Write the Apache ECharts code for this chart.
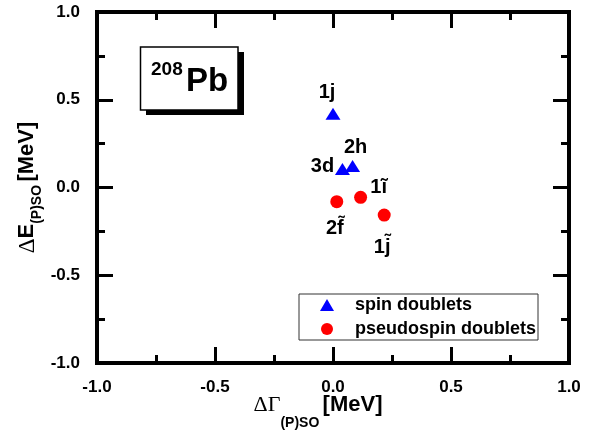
<!DOCTYPE html>
<html>
<head>
<meta charset="utf-8">
<script src="https://cdn.jsdelivr.net/npm/echarts@6/dist/echarts.min.js"></script>
<style>
html,body{margin:0;padding:0;background:#fff;}
#chart{width:613px;height:437px;}
</style>
</head>
<body>
<div id="chart"></div>
<script>
// ---- data ----
const spinNames = ['1j', '3d', '2h'];
const spinX = [0.000, 0.040, 0.083];
const spinY = [0.420, 0.105, 0.123];

const pseudoNames = ['2f\u0303', '1\u0129', '1j\u0303'];
const pseudoX = [0.016, 0.117, 0.217];
const pseudoY = [-0.081, -0.056, -0.157];

const seriesNames = ['spin doublets', 'pseudospin doublets'];
const axisMin = -1.0;
const axisMax = 1.0;
const axisStep = 0.5;

// ---- label placement (styling, not data) ----
const labelOffsets = {
  '1j': [-6, -21],
  '3d': [-20, -3],
  '2h': [3, -18],
  '2f\u0303': [-2, 27],
  '1\u0129': [18, -10],
  '1j\u0303': [-2, 32]
};

const FONT = '"Liberation Sans", Arial, sans-serif';

function buildData(xs, ys, names) {
  return xs.map((x, i) => ({
    value: [x, ys[i]],
    name: names[i],
    label: {
      show: true,
      formatter: names[i],
      position: 'inside',
      offset: labelOffsets[names[i]],
      fontSize: 20,
      fontWeight: 'bold',
      fontFamily: FONT,
      color: '#000'
    }
  }));
}

const chart = echarts.init(document.getElementById('chart'), null, {renderer: 'canvas'});

const tickLabelFmt = v => v.toFixed(1);

function axisCommon(showLabel) {
  return {
    min: axisMin,
    max: axisMax,
    interval: axisStep,
    axisLine: {show: true, onZero: false, lineStyle: {color: '#000', width: 4, cap: 'square'}},
    axisTick: {show: true, inside: true, length: 16, lineStyle: {color: '#000', width: 3}},
    minorTick: {show: true, splitNumber: 2, length: 8, lineStyle: {color: '#000', width: 3}},
    splitLine: {show: false},
    minorSplitLine: {show: false},
    axisLabel: {
      show: showLabel,
      formatter: tickLabelFmt,
      fontSize: 17,
      fontWeight: 'bold',
      fontFamily: FONT,
      color: '#000'
    }
  };
}

const option = {
  animation: false,
  backgroundColor: '#fff',
  grid: {left: 97, right: 44, top: 12, bottom: 74, containLabel: false, outerBoundsMode: 'none'},
  legend: {
    orient: 'vertical',
    left: 299,
    top: 294,
    data: seriesNames,
    itemWidth: 14,
    itemHeight: 12,
    itemGap: 6,
    padding: [2, 2, 2, 21],
    borderColor: '#333',
    borderWidth: 1,
    textStyle: {fontSize: 18, fontWeight: 'bold', fontFamily: FONT, color: '#000', lineHeight: 18, padding: [0, 0, 0, 16]}
  },
  xAxis: [
    Object.assign(axisCommon(true), {
      type: 'value',
      position: 'bottom',
      axisLabel: Object.assign(axisCommon(true).axisLabel, {margin: 16}),
      name: '{d|\u0394\u0393}{s|(P)SO} {m|[MeV]}',
      nameLocation: 'middle',
      nameGap: 31,
      nameMoveOverlap: false,
      nameTextStyle: {
        padding: [0, 30, 0, 0],
        rich: {
          d: {fontFamily: '"Liberation Serif", serif', fontSize: 22, fontWeight: 'normal', color: '#000', verticalAlign: 'top', lineHeight: 24},
          s: {fontFamily: FONT, fontSize: 14, fontWeight: 'bold', color: '#000', verticalAlign: 'top', lineHeight: 14, padding: [22, 0, 0, 0]},
          m: {fontFamily: FONT, fontSize: 22, fontWeight: 'bold', color: '#000', verticalAlign: 'top', lineHeight: 24}
        }
      }
    }),
    Object.assign(axisCommon(false), {type: 'value', position: 'top'})
  ],
  yAxis: [
    Object.assign(axisCommon(true), {
      type: 'value',
      position: 'left',
      axisLabel: Object.assign(axisCommon(true).axisLabel, {margin: 17}),
      name: '{d|\u0394}{e|E}{s|(P)SO} {m|[MeV]}',
      nameLocation: 'middle',
      nameGap: 57,
      nameMoveOverlap: false,
      nameTextStyle: {
        rich: {
          d: {fontFamily: '"Liberation Serif", serif', fontSize: 23, fontWeight: 'normal', color: '#000', verticalAlign: 'top', lineHeight: 24},
          e: {fontFamily: FONT, fontSize: 22, fontWeight: 'bold', color: '#000', verticalAlign: 'top', lineHeight: 24},
          s: {fontFamily: FONT, fontSize: 14, fontWeight: 'bold', color: '#000', verticalAlign: 'top', lineHeight: 14, padding: [14, 0, 0, 0]},
          m: {fontFamily: FONT, fontSize: 22, fontWeight: 'bold', color: '#000', verticalAlign: 'top', lineHeight: 24}
        }
      }
    }),
    Object.assign(axisCommon(false), {type: 'value', position: 'right'})
  ],
  series: [
    {
      name: seriesNames[0],
      type: 'scatter',
      symbol: 'triangle',
      symbolSize: [15, 12],
      itemStyle: {color: '#0000ff', opacity: 1},
      data: buildData(spinX, spinY, spinNames),
      z: 3
    },
    {
      name: seriesNames[1],
      type: 'scatter',
      symbol: 'circle',
      symbolSize: 13,
      itemStyle: {color: '#ff0000', opacity: 1},
      data: buildData(pseudoX, pseudoY, pseudoNames),
      z: 3
    }
  ],
  graphic: [
    {type: 'rect', shape: {x: 146, y: 52, width: 98, height: 63}, style: {fill: '#000'}, z: 10},
    {type: 'rect', shape: {x: 140.5, y: 47, width: 97.5, height: 63}, style: {fill: '#fff', stroke: '#000', lineWidth: 1.5}, z: 11},
    {type: 'text', x: 151, y: 70, style: {text: '208', font: 'bold 19px ' + FONT, fill: '#000', verticalAlign: 'middle', align: 'left'}, z: 12},
    {type: 'text', x: 186, y: 82, style: {text: 'Pb', font: 'bold 33px ' + FONT, fill: '#000', verticalAlign: 'middle', align: 'left'}, z: 12}
  ]
};

chart.setOption(option);
</script>
</body>
</html>
